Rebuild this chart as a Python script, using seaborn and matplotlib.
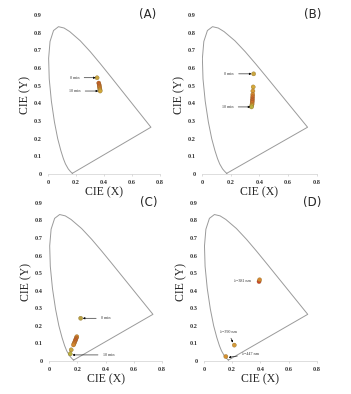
import matplotlib.pyplot as plt
import seaborn as sns
import pandas as pd

### Locus espectral CIE 1931 (x, y)
locus_x = [0.1741, 0.1733, 0.1714, 0.1644, 0.1566, 0.1440, 0.1241, 0.1096, 0.0913, 0.0687,
           0.0454, 0.0235, 0.0082, 0.0039, 0.0139, 0.0389, 0.0743, 0.1142, 0.1547, 0.2296,
           0.3016, 0.3731, 0.4441, 0.5125, 0.5752, 0.6270, 0.6658, 0.6915, 0.7079, 0.7190,
           0.7260, 0.7300, 0.7347, 0.1741]
locus_y = [0.0050, 0.0048, 0.0051, 0.0109, 0.0177, 0.0297, 0.0578, 0.0868, 0.1327, 0.2007,
           0.2950, 0.4127, 0.5384, 0.6548, 0.7502, 0.8120, 0.8338, 0.8262, 0.8059, 0.7543,
           0.6923, 0.6245, 0.5547, 0.4866, 0.4242, 0.3725, 0.3340, 0.3083, 0.2920, 0.2809,
           0.2740, 0.2700, 0.2653, 0.0050]

### Pontos de cada painel
x_a = [0.350, 0.362, 0.365, 0.366, 0.368, 0.370, 0.371, 0.372]
y_a = [0.545, 0.515, 0.505, 0.497, 0.490, 0.482, 0.476, 0.470]
cor_a = ["#c9a640", "#c8602a", "#c8602a", "#cf6d2c", "#d07a30", "#d4862f", "#d69a38", "#cfa73a"]

x_b = [0.360, 0.357, 0.355, 0.354, 0.353, 0.352, 0.351, 0.350, 0.349, 0.347, 0.345]
y_b = [0.567, 0.493, 0.470, 0.450, 0.437, 0.425, 0.415, 0.405, 0.395, 0.387, 0.380]
cor_b = ["#c9a640", "#d4a83a", "#d69a38", "#d4862f", "#cf6d2c", "#c8602a", "#c8602a", "#cf6d2c",
         "#d4862f", "#cfa73a", "#b8b040"]

x_c = [0.223, 0.196, 0.192, 0.188, 0.184, 0.180, 0.176, 0.172, 0.156, 0.149]
y_c = [0.243, 0.138, 0.130, 0.122, 0.114, 0.106, 0.098, 0.091, 0.063, 0.040]
cor_c = ["#b8a040", "#d4862f", "#cf6d2c", "#c8602a", "#c8602a", "#cf6d2c", "#d07a30", "#d4862f",
         "#c9a640", "#b8b040"]

x_d = [0.390, 0.394, 0.215, 0.155]
y_d = [0.452, 0.462, 0.090, 0.025]
cor_d = ["#d0402a", "#d4862f", "#d49a3a", "#d4902f"]

### Anotações: (texto, alvo x, alvo y, texto x, texto y, seta)
notas = {
    "A": [("0 min", 0.340, 0.545, 0.19, 0.545, True), ("10 min", 0.358, 0.470, 0.19, 0.470, True)],
    "B": [("0 min", 0.345, 0.567, 0.19, 0.567, True), ("10 min", 0.337, 0.380, 0.18, 0.380, True)],
    "C": [("0 min", 0.238, 0.243, 0.40, 0.243, True), ("10 min", 0.165, 0.034, 0.42, 0.034, True)],
    "D": [("λ=381 nm", 0.38, 0.455, 0.27, 0.455, False), ("λ=390 nm", 0.205, 0.105, 0.17, 0.167, True),
          ("λ=447 nm", 0.175, 0.020, 0.33, 0.040, True)],
}
paineis = {"A": (x_a, y_a, cor_a), "B": (x_b, y_b, cor_b), "C": (x_c, y_c, cor_c), "D": (x_d, y_d, cor_d)}
posicoes = {"A": [0.137, 0.558, 0.319, 0.404], "B": [0.575, 0.558, 0.328, 0.404],
            "C": [0.140, 0.084, 0.322, 0.401], "D": [0.581, 0.084, 0.322, 0.401]}
rotulo_x = {"A": 0.89, "B": 0.96, "C": 0.88, "D": 0.96}

sns.set_theme(style = "white")
plt.rcParams["font.family"] = ["Liberation Serif", "DejaVu Serif"]

fig = plt.figure(figsize = (3.51, 3.94), dpi = 100)
locus = pd.DataFrame({"x": locus_x, "y": locus_y})

for p in ["A", "B", "C", "D"]:
    ax = fig.add_axes(posicoes[p])
    sns.lineplot(data = locus, x = "x", y = "y", sort = False, estimator = None,
                 color = "#9a9a9a", linewidth = 0.7, ax = ax)
    xs, ys, cs = paineis[p]
    pontos = pd.DataFrame({"x": xs, "y": ys, "c": cs})
    sns.scatterplot(data = pontos, x = "x", y = "y", hue = "c", palette = {c: c for c in cs},
                    legend = False, s = 9, edgecolor = "#806020", linewidth = 0.2, ax = ax, zorder = 3)
    for texto, ax_x, ax_y, tx, ty, seta in notas[p]:
        if seta:
            ax.annotate(texto, xy = (ax_x, ax_y), xytext = (tx, ty), fontsize = 3, color = "#333333",
                        ha = "center", va = "center",
                        arrowprops = dict(arrowstyle = "-|>", color = "black", lw = 0.4,
                                          mutation_scale = 3, shrinkA = 1, shrinkB = 0))
        else:
            ax.text(tx, ty, texto, fontsize = 3, color = "#333333", ha = "center", va = "center")
    ax.set_xlim(0, 0.8)
    ax.set_ylim(0, 0.9)
    ax.set_xticks([0, 0.2, 0.4, 0.6, 0.8])
    ax.set_xticklabels(["0", "0.2", "0.4", "0.6", "0.8"], fontweight = "bold")
    ax.set_yticks([0, 0.1, 0.2, 0.3, 0.4, 0.5, 0.6, 0.7, 0.8, 0.9])
    ax.set_yticklabels(["0", "0.1", "0.2", "0.3", "0.4", "0.5", "0.6", "0.7", "0.8", "0.9"],
                       fontweight = "bold")
    ax.tick_params(labelsize = 4.5, labelcolor = "#333333", length = 1.5, width = 0.4,
                   color = "#c0c0c0", pad = 3, bottom = True, left = False)
    for lado in ["top", "right", "left"]:
        ax.spines[lado].set_visible(False)
    ax.spines["bottom"].set_color("#d0d0d0")
    ax.spines["bottom"].set_linewidth(0.5)
    ax.set_xlabel("CIE (X)", fontsize = 8.5, labelpad = 1)
    ax.set_ylabel("CIE (Y)", fontsize = 8.5, labelpad = 2)
    ax.text(rotulo_x[p], 1.0, f"({p})", transform = ax.transAxes, ha = "center", va = "center",
            fontsize = 8.5, family = "DejaVu Sans")

plt.savefig("out.png", dpi = 100)
